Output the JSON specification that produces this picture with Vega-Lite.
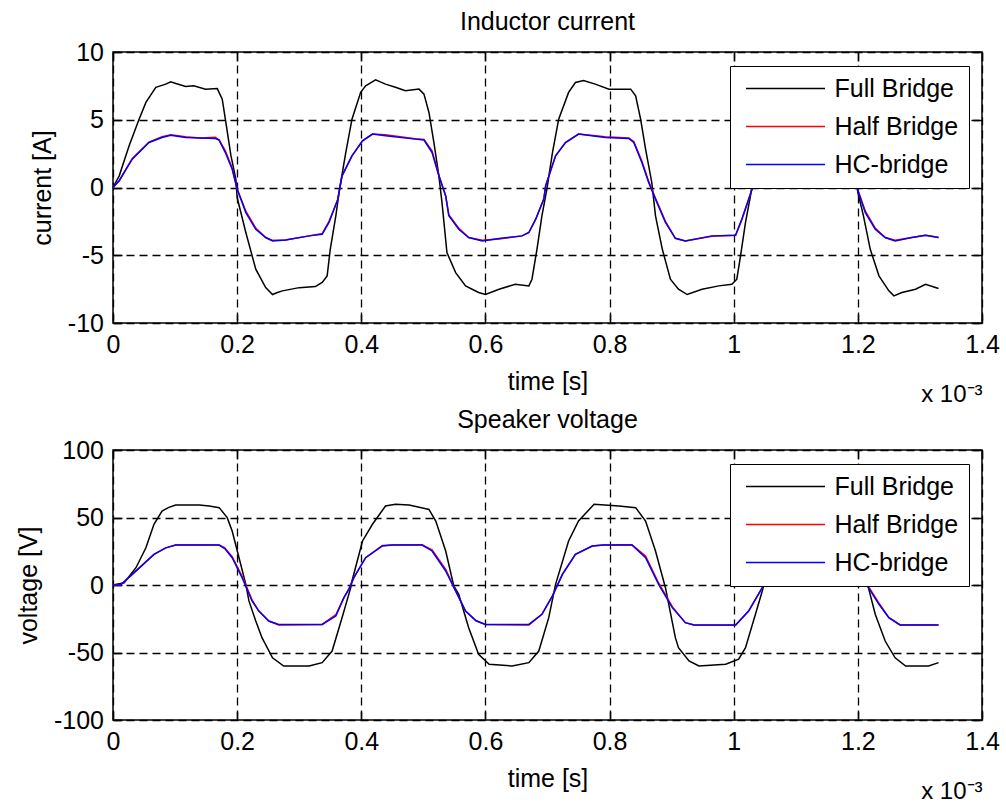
{
  "$schema": "https://vega.github.io/schema/vega-lite/v6.json",
  "background": "white",
  "padding": {"left": 15, "top": 9, "right": 2, "bottom": 0},
  "spacing": 0,
  "datasets": {
    "cur": [
      {"s":"Full Bridge","t":0,"v":0},{"s":"Full Bridge","t":0.01,"v":0.86},{"s":"Full Bridge","t":0.026,"v":3.08},{"s":"Full Bridge","t":0.042,"v":5.04},{"s":"Full Bridge","t":0.053,"v":6.28},{"s":"Full Bridge","t":0.069,"v":7.39},{"s":"Full Bridge","t":0.085,"v":7.63},{"s":"Full Bridge","t":0.093,"v":7.8},{"s":"Full Bridge","t":0.1,"v":7.7},{"s":"Full Bridge","t":0.117,"v":7.45},{"s":"Full Bridge","t":0.13,"v":7.5},{"s":"Full Bridge","t":0.149,"v":7.25},{"s":"Full Bridge","t":0.168,"v":7.3},{"s":"Full Bridge","t":0.176,"v":6.52},{"s":"Full Bridge","t":0.181,"v":5.04},{"s":"Full Bridge","t":0.19,"v":2.35},{"s":"Full Bridge","t":0.198,"v":0.61},{"s":"Full Bridge","t":0.2,"v":-0.74},{"s":"Full Bridge","t":0.214,"v":-3.32},{"s":"Full Bridge","t":0.23,"v":-6.03},{"s":"Full Bridge","t":0.246,"v":-7.39},{"s":"Full Bridge","t":0.257,"v":-7.9},{"s":"Full Bridge","t":0.265,"v":-7.75},{"s":"Full Bridge","t":0.273,"v":-7.63},{"s":"Full Bridge","t":0.3,"v":-7.39},{"s":"Full Bridge","t":0.326,"v":-7.31},{"s":"Full Bridge","t":0.337,"v":-7.0},{"s":"Full Bridge","t":0.345,"v":-6.52},{"s":"Full Bridge","t":0.35,"v":-4.56},{"s":"Full Bridge","t":0.359,"v":-2.09},{"s":"Full Bridge","t":0.365,"v":-0.12},{"s":"Full Bridge","t":0.375,"v":2.58},{"s":"Full Bridge","t":0.385,"v":5.04},{"s":"Full Bridge","t":0.399,"v":7.02},{"s":"Full Bridge","t":0.407,"v":7.51},{"s":"Full Bridge","t":0.423,"v":7.95},{"s":"Full Bridge","t":0.439,"v":7.63},{"s":"Full Bridge","t":0.455,"v":7.4},{"s":"Full Bridge","t":0.471,"v":7.14},{"s":"Full Bridge","t":0.493,"v":7.26},{"s":"Full Bridge","t":0.501,"v":6.89},{"s":"Full Bridge","t":0.509,"v":5.54},{"s":"Full Bridge","t":0.517,"v":3.32},{"s":"Full Bridge","t":0.525,"v":0.86},{"s":"Full Bridge","t":0.53,"v":-1.1},{"s":"Full Bridge","t":0.538,"v":-4.8},{"s":"Full Bridge","t":0.552,"v":-6.28},{"s":"Full Bridge","t":0.568,"v":-7.26},{"s":"Full Bridge","t":0.589,"v":-7.75},{"s":"Full Bridge","t":0.6,"v":-7.9},{"s":"Full Bridge","t":0.622,"v":-7.51},{"s":"Full Bridge","t":0.648,"v":-7.14},{"s":"Full Bridge","t":0.67,"v":-7.26},{"s":"Full Bridge","t":0.675,"v":-6.77},{"s":"Full Bridge","t":0.683,"v":-4.56},{"s":"Full Bridge","t":0.691,"v":-2.09},{"s":"Full Bridge","t":0.699,"v":-0.12},{"s":"Full Bridge","t":0.708,"v":2.58},{"s":"Full Bridge","t":0.718,"v":5.04},{"s":"Full Bridge","t":0.734,"v":7.02},{"s":"Full Bridge","t":0.745,"v":7.75},{"s":"Full Bridge","t":0.758,"v":7.9},{"s":"Full Bridge","t":0.777,"v":7.63},{"s":"Full Bridge","t":0.799,"v":7.26},{"s":"Full Bridge","t":0.815,"v":7.26},{"s":"Full Bridge","t":0.834,"v":7.26},{"s":"Full Bridge","t":0.842,"v":6.77},{"s":"Full Bridge","t":0.85,"v":5.04},{"s":"Full Bridge","t":0.858,"v":2.83},{"s":"Full Bridge","t":0.868,"v":0.37},{"s":"Full Bridge","t":0.874,"v":-2.09},{"s":"Full Bridge","t":0.885,"v":-4.56},{"s":"Full Bridge","t":0.898,"v":-6.77},{"s":"Full Bridge","t":0.911,"v":-7.51},{"s":"Full Bridge","t":0.925,"v":-7.9},{"s":"Full Bridge","t":0.949,"v":-7.51},{"s":"Full Bridge","t":0.976,"v":-7.26},{"s":"Full Bridge","t":0.997,"v":-7.14},{"s":"Full Bridge","t":1.005,"v":-6.77},{"s":"Full Bridge","t":1.011,"v":-5.04},{"s":"Full Bridge","t":1.019,"v":-2.58},{"s":"Full Bridge","t":1.027,"v":-0.62},{"s":"Full Bridge","t":1.035,"v":1.8},{"s":"Full Bridge","t":1.045,"v":4.8},{"s":"Full Bridge","t":1.06,"v":7.0},{"s":"Full Bridge","t":1.075,"v":7.7},{"s":"Full Bridge","t":1.09,"v":7.9},{"s":"Full Bridge","t":1.11,"v":7.6},{"s":"Full Bridge","t":1.13,"v":7.3},{"s":"Full Bridge","t":1.165,"v":7.25},{"s":"Full Bridge","t":1.175,"v":6.8},{"s":"Full Bridge","t":1.183,"v":5.0},{"s":"Full Bridge","t":1.19,"v":2.8},{"s":"Full Bridge","t":1.2,"v":-0.37},{"s":"Full Bridge","t":1.209,"v":-2.09},{"s":"Full Bridge","t":1.22,"v":-4.56},{"s":"Full Bridge","t":1.234,"v":-6.52},{"s":"Full Bridge","t":1.25,"v":-7.63},{"s":"Full Bridge","t":1.258,"v":-8.0},{"s":"Full Bridge","t":1.271,"v":-7.75},{"s":"Full Bridge","t":1.293,"v":-7.51},{"s":"Full Bridge","t":1.309,"v":-7.14},{"s":"Full Bridge","t":1.33,"v":-7.46},
      {"s":"Half Bridge","t":0,"v":0},{"s":"Half Bridge","t":0.01,"v":0.5},{"s":"Half Bridge","t":0.031,"v":2.15},{"s":"Half Bridge","t":0.058,"v":3.35},{"s":"Half Bridge","t":0.079,"v":3.75},{"s":"Half Bridge","t":0.093,"v":3.9},{"s":"Half Bridge","t":0.117,"v":3.75},{"s":"Half Bridge","t":0.14,"v":3.65},{"s":"Half Bridge","t":0.165,"v":3.7},{"s":"Half Bridge","t":0.171,"v":3.5},{"s":"Half Bridge","t":0.181,"v":2.7},{"s":"Half Bridge","t":0.192,"v":1.45},{"s":"Half Bridge","t":0.2,"v":-0.12},{"s":"Half Bridge","t":0.214,"v":-1.75},{"s":"Half Bridge","t":0.23,"v":-3.0},{"s":"Half Bridge","t":0.246,"v":-3.69},{"s":"Half Bridge","t":0.257,"v":-3.9},{"s":"Half Bridge","t":0.278,"v":-3.87},{"s":"Half Bridge","t":0.316,"v":-3.57},{"s":"Half Bridge","t":0.337,"v":-3.4},{"s":"Half Bridge","t":0.348,"v":-2.5},{"s":"Half Bridge","t":0.356,"v":-1.6},{"s":"Half Bridge","t":0.362,"v":-0.9},{"s":"Half Bridge","t":0.369,"v":0.86},{"s":"Half Bridge","t":0.385,"v":2.34},{"s":"Half Bridge","t":0.402,"v":3.45},{"s":"Half Bridge","t":0.418,"v":3.94},{"s":"Half Bridge","t":0.439,"v":3.9},{"s":"Half Bridge","t":0.487,"v":3.6},{"s":"Half Bridge","t":0.501,"v":3.55},{"s":"Half Bridge","t":0.514,"v":2.7},{"s":"Half Bridge","t":0.525,"v":0.9},{"s":"Half Bridge","t":0.536,"v":-0.62},{"s":"Half Bridge","t":0.541,"v":-2.0},{"s":"Half Bridge","t":0.557,"v":-3.0},{"s":"Half Bridge","t":0.573,"v":-3.69},{"s":"Half Bridge","t":0.595,"v":-3.9},{"s":"Half Bridge","t":0.622,"v":-3.8},{"s":"Half Bridge","t":0.659,"v":-3.57},{"s":"Half Bridge","t":0.67,"v":-3.32},{"s":"Half Bridge","t":0.681,"v":-2.34},{"s":"Half Bridge","t":0.694,"v":-0.86},{"s":"Half Bridge","t":0.697,"v":0.12},{"s":"Half Bridge","t":0.713,"v":2.34},{"s":"Half Bridge","t":0.729,"v":3.32},{"s":"Half Bridge","t":0.75,"v":3.94},{"s":"Half Bridge","t":0.793,"v":3.75},{"s":"Half Bridge","t":0.831,"v":3.65},{"s":"Half Bridge","t":0.839,"v":3.4},{"s":"Half Bridge","t":0.852,"v":1.95},{"s":"Half Bridge","t":0.863,"v":0.45},{"s":"Half Bridge","t":0.874,"v":-0.8},{"s":"Half Bridge","t":0.89,"v":-2.5},{"s":"Half Bridge","t":0.906,"v":-3.75},{"s":"Half Bridge","t":0.922,"v":-3.94},{"s":"Half Bridge","t":0.965,"v":-3.6},{"s":"Half Bridge","t":1.003,"v":-3.52},{"s":"Half Bridge","t":1.013,"v":-2.4},{"s":"Half Bridge","t":1.024,"v":-0.9},{"s":"Half Bridge","t":1.035,"v":0.6},{"s":"Half Bridge","t":1.05,"v":2.4},{"s":"Half Bridge","t":1.065,"v":3.4},{"s":"Half Bridge","t":1.085,"v":3.9},{"s":"Half Bridge","t":1.12,"v":3.7},{"s":"Half Bridge","t":1.165,"v":3.6},{"s":"Half Bridge","t":1.175,"v":3.3},{"s":"Half Bridge","t":1.188,"v":1.9},{"s":"Half Bridge","t":1.201,"v":-0.3},{"s":"Half Bridge","t":1.212,"v":-1.75},{"s":"Half Bridge","t":1.228,"v":-3.0},{"s":"Half Bridge","t":1.244,"v":-3.69},{"s":"Half Bridge","t":1.26,"v":-3.9},{"s":"Half Bridge","t":1.287,"v":-3.69},{"s":"Half Bridge","t":1.309,"v":-3.52},{"s":"Half Bridge","t":1.33,"v":-3.69},
      {"s":"HC-bridge","t":0,"v":0},{"s":"HC-bridge","t":0.01,"v":0.5},{"s":"HC-bridge","t":0.031,"v":2.09},{"s":"HC-bridge","t":0.058,"v":3.32},{"s":"HC-bridge","t":0.079,"v":3.69},{"s":"HC-bridge","t":0.093,"v":3.85},{"s":"HC-bridge","t":0.117,"v":3.69},{"s":"HC-bridge","t":0.14,"v":3.65},{"s":"HC-bridge","t":0.165,"v":3.62},{"s":"HC-bridge","t":0.171,"v":3.5},{"s":"HC-bridge","t":0.181,"v":2.58},{"s":"HC-bridge","t":0.192,"v":1.35},{"s":"HC-bridge","t":0.2,"v":-0.12},{"s":"HC-bridge","t":0.214,"v":-1.85},{"s":"HC-bridge","t":0.23,"v":-3.08},{"s":"HC-bridge","t":0.246,"v":-3.69},{"s":"HC-bridge","t":0.257,"v":-3.94},{"s":"HC-bridge","t":0.278,"v":-3.87},{"s":"HC-bridge","t":0.316,"v":-3.57},{"s":"HC-bridge","t":0.337,"v":-3.45},{"s":"HC-bridge","t":0.348,"v":-2.58},{"s":"HC-bridge","t":0.356,"v":-1.6},{"s":"HC-bridge","t":0.362,"v":-0.9},{"s":"HC-bridge","t":0.369,"v":0.86},{"s":"HC-bridge","t":0.385,"v":2.34},{"s":"HC-bridge","t":0.402,"v":3.45},{"s":"HC-bridge","t":0.418,"v":3.94},{"s":"HC-bridge","t":0.439,"v":3.82},{"s":"HC-bridge","t":0.487,"v":3.57},{"s":"HC-bridge","t":0.501,"v":3.5},{"s":"HC-bridge","t":0.514,"v":2.58},{"s":"HC-bridge","t":0.525,"v":0.86},{"s":"HC-bridge","t":0.536,"v":-0.62},{"s":"HC-bridge","t":0.541,"v":-2.09},{"s":"HC-bridge","t":0.557,"v":-3.08},{"s":"HC-bridge","t":0.573,"v":-3.69},{"s":"HC-bridge","t":0.595,"v":-3.94},{"s":"HC-bridge","t":0.622,"v":-3.77},{"s":"HC-bridge","t":0.659,"v":-3.57},{"s":"HC-bridge","t":0.67,"v":-3.32},{"s":"HC-bridge","t":0.681,"v":-2.34},{"s":"HC-bridge","t":0.694,"v":-0.86},{"s":"HC-bridge","t":0.697,"v":0.12},{"s":"HC-bridge","t":0.713,"v":2.34},{"s":"HC-bridge","t":0.729,"v":3.32},{"s":"HC-bridge","t":0.75,"v":3.94},{"s":"HC-bridge","t":0.793,"v":3.69},{"s":"HC-bridge","t":0.831,"v":3.62},{"s":"HC-bridge","t":0.839,"v":3.32},{"s":"HC-bridge","t":0.852,"v":1.85},{"s":"HC-bridge","t":0.863,"v":0.37},{"s":"HC-bridge","t":0.874,"v":-0.86},{"s":"HC-bridge","t":0.89,"v":-2.58},{"s":"HC-bridge","t":0.906,"v":-3.75},{"s":"HC-bridge","t":0.922,"v":-3.94},{"s":"HC-bridge","t":0.965,"v":-3.57},{"s":"HC-bridge","t":1.003,"v":-3.52},{"s":"HC-bridge","t":1.013,"v":-2.34},{"s":"HC-bridge","t":1.024,"v":-0.86},{"s":"HC-bridge","t":1.035,"v":0.6},{"s":"HC-bridge","t":1.05,"v":2.4},{"s":"HC-bridge","t":1.065,"v":3.4},{"s":"HC-bridge","t":1.085,"v":3.9},{"s":"HC-bridge","t":1.12,"v":3.7},{"s":"HC-bridge","t":1.165,"v":3.6},{"s":"HC-bridge","t":1.175,"v":3.3},{"s":"HC-bridge","t":1.188,"v":1.8},{"s":"HC-bridge","t":1.201,"v":-0.37},{"s":"HC-bridge","t":1.212,"v":-1.85},{"s":"HC-bridge","t":1.228,"v":-3.08},{"s":"HC-bridge","t":1.244,"v":-3.69},{"s":"HC-bridge","t":1.26,"v":-3.94},{"s":"HC-bridge","t":1.287,"v":-3.69},{"s":"HC-bridge","t":1.309,"v":-3.52},{"s":"HC-bridge","t":1.33,"v":-3.69}
    ],
    "volt": [
      {"s":"Full Bridge","t":0,"v":0},{"s":"Full Bridge","t":0.018,"v":1.7},{"s":"Full Bridge","t":0.037,"v":12.8},{"s":"Full Bridge","t":0.053,"v":27.6},{"s":"Full Bridge","t":0.066,"v":45},{"s":"Full Bridge","t":0.079,"v":54.8},{"s":"Full Bridge","t":0.09,"v":57.5},{"s":"Full Bridge","t":0.101,"v":59.3},{"s":"Full Bridge","t":0.139,"v":59.3},{"s":"Full Bridge","t":0.155,"v":58.5},{"s":"Full Bridge","t":0.171,"v":57.3},{"s":"Full Bridge","t":0.184,"v":49.9},{"s":"Full Bridge","t":0.192,"v":40},{"s":"Full Bridge","t":0.203,"v":20.2},{"s":"Full Bridge","t":0.214,"v":0.5},{"s":"Full Bridge","t":0.219,"v":-11.8},{"s":"Full Bridge","t":0.23,"v":-26.7},{"s":"Full Bridge","t":0.24,"v":-39},{"s":"Full Bridge","t":0.257,"v":-53.9},{"s":"Full Bridge","t":0.275,"v":-60},{"s":"Full Bridge","t":0.316,"v":-60},{"s":"Full Bridge","t":0.337,"v":-57.5},{"s":"Full Bridge","t":0.353,"v":-48.9},{"s":"Full Bridge","t":0.369,"v":-24.2},{"s":"Full Bridge","t":0.383,"v":-2},{"s":"Full Bridge","t":0.385,"v":3},{"s":"Full Bridge","t":0.402,"v":32.6},{"s":"Full Bridge","t":0.418,"v":45},{"s":"Full Bridge","t":0.439,"v":58.5},{"s":"Full Bridge","t":0.455,"v":59.8},{"s":"Full Bridge","t":0.477,"v":59.3},{"s":"Full Bridge","t":0.509,"v":56},{"s":"Full Bridge","t":0.52,"v":47.4},{"s":"Full Bridge","t":0.536,"v":25.2},{"s":"Full Bridge","t":0.549,"v":-0.7},{"s":"Full Bridge","t":0.557,"v":-6.9},{"s":"Full Bridge","t":0.573,"v":-31.6},{"s":"Full Bridge","t":0.589,"v":-51.3},{"s":"Full Bridge","t":0.606,"v":-58.7},{"s":"Full Bridge","t":0.643,"v":-60},{"s":"Full Bridge","t":0.67,"v":-57.5},{"s":"Full Bridge","t":0.686,"v":-48.9},{"s":"Full Bridge","t":0.702,"v":-24.2},{"s":"Full Bridge","t":0.713,"v":0.5},{"s":"Full Bridge","t":0.734,"v":32.6},{"s":"Full Bridge","t":0.75,"v":47.4},{"s":"Full Bridge","t":0.775,"v":59.8},{"s":"Full Bridge","t":0.815,"v":58.5},{"s":"Full Bridge","t":0.842,"v":57.3},{"s":"Full Bridge","t":0.858,"v":47.4},{"s":"Full Bridge","t":0.874,"v":25.2},{"s":"Full Bridge","t":0.89,"v":-2},{"s":"Full Bridge","t":0.906,"v":-39},{"s":"Full Bridge","t":0.911,"v":-46.4},{"s":"Full Bridge","t":0.928,"v":-56.3},{"s":"Full Bridge","t":0.944,"v":-60},{"s":"Full Bridge","t":0.987,"v":-58.7},{"s":"Full Bridge","t":1.008,"v":-55},{"s":"Full Bridge","t":1.019,"v":-46.4},{"s":"Full Bridge","t":1.035,"v":-21.7},{"s":"Full Bridge","t":1.046,"v":-4.4},{"s":"Full Bridge","t":1.06,"v":20},{"s":"Full Bridge","t":1.075,"v":42},{"s":"Full Bridge","t":1.09,"v":55},{"s":"Full Bridge","t":1.108,"v":59.8},{"s":"Full Bridge","t":1.15,"v":58.5},{"s":"Full Bridge","t":1.175,"v":57},{"s":"Full Bridge","t":1.19,"v":47},{"s":"Full Bridge","t":1.205,"v":25},{"s":"Full Bridge","t":1.217,"v":-2},{"s":"Full Bridge","t":1.228,"v":-21.7},{"s":"Full Bridge","t":1.244,"v":-41.5},{"s":"Full Bridge","t":1.26,"v":-53.9},{"s":"Full Bridge","t":1.277,"v":-60},{"s":"Full Bridge","t":1.314,"v":-60},{"s":"Full Bridge","t":1.33,"v":-57.5},
      {"s":"Half Bridge","t":0,"v":0},{"s":"Half Bridge","t":0.012,"v":0},{"s":"Half Bridge","t":0.031,"v":7.9},{"s":"Half Bridge","t":0.066,"v":22.7},{"s":"Half Bridge","t":0.085,"v":27.5},{"s":"Half Bridge","t":0.101,"v":29.6},{"s":"Half Bridge","t":0.171,"v":29.6},{"s":"Half Bridge","t":0.18,"v":27.5},{"s":"Half Bridge","t":0.192,"v":21},{"s":"Half Bridge","t":0.208,"v":6.5},{"s":"Half Bridge","t":0.224,"v":-11},{"s":"Half Bridge","t":0.235,"v":-19.3},{"s":"Half Bridge","t":0.251,"v":-26.7},{"s":"Half Bridge","t":0.267,"v":-29.6},{"s":"Half Bridge","t":0.337,"v":-29.2},{"s":"Half Bridge","t":0.359,"v":-22},{"s":"Half Bridge","t":0.372,"v":-9.4},{"s":"Half Bridge","t":0.38,"v":-3},{"s":"Half Bridge","t":0.388,"v":5.4},{"s":"Half Bridge","t":0.407,"v":20.2},{"s":"Half Bridge","t":0.434,"v":29.2},{"s":"Half Bridge","t":0.45,"v":29.6},{"s":"Half Bridge","t":0.498,"v":29.9},{"s":"Half Bridge","t":0.514,"v":26},{"s":"Half Bridge","t":0.536,"v":11.5},{"s":"Half Bridge","t":0.552,"v":-4.4},{"s":"Half Bridge","t":0.568,"v":-19.3},{"s":"Half Bridge","t":0.585,"v":-26.5},{"s":"Half Bridge","t":0.6,"v":-29.2},{"s":"Half Bridge","t":0.67,"v":-29.6},{"s":"Half Bridge","t":0.691,"v":-21.7},{"s":"Half Bridge","t":0.708,"v":-8.1},{"s":"Half Bridge","t":0.724,"v":7.9},{"s":"Half Bridge","t":0.745,"v":22.7},{"s":"Half Bridge","t":0.772,"v":28.9},{"s":"Half Bridge","t":0.79,"v":29.6},{"s":"Half Bridge","t":0.836,"v":29.9},{"s":"Half Bridge","t":0.858,"v":21.5},{"s":"Half Bridge","t":0.879,"v":1.5},{"s":"Half Bridge","t":0.901,"v":-16},{"s":"Half Bridge","t":0.922,"v":-27.9},{"s":"Half Bridge","t":0.936,"v":-29.6},{"s":"Half Bridge","t":1.003,"v":-29.9},{"s":"Half Bridge","t":1.024,"v":-19.3},{"s":"Half Bridge","t":1.046,"v":-2},{"s":"Half Bridge","t":1.06,"v":10},{"s":"Half Bridge","t":1.08,"v":23},{"s":"Half Bridge","t":1.1,"v":28.9},{"s":"Half Bridge","t":1.12,"v":29.6},{"s":"Half Bridge","t":1.17,"v":29.6},{"s":"Half Bridge","t":1.19,"v":20.2},{"s":"Half Bridge","t":1.205,"v":9},{"s":"Half Bridge","t":1.217,"v":-1},{"s":"Half Bridge","t":1.234,"v":-13.5},{"s":"Half Bridge","t":1.25,"v":-24.2},{"s":"Half Bridge","t":1.268,"v":-29.6},{"s":"Half Bridge","t":1.33,"v":-29.6},
      {"s":"HC-bridge","t":0,"v":0},{"s":"HC-bridge","t":0.012,"v":0},{"s":"HC-bridge","t":0.031,"v":7.9},{"s":"HC-bridge","t":0.066,"v":22.7},{"s":"HC-bridge","t":0.085,"v":27.5},{"s":"HC-bridge","t":0.101,"v":29.6},{"s":"HC-bridge","t":0.171,"v":29.6},{"s":"HC-bridge","t":0.18,"v":27},{"s":"HC-bridge","t":0.192,"v":20.2},{"s":"HC-bridge","t":0.208,"v":5.4},{"s":"HC-bridge","t":0.224,"v":-11.8},{"s":"HC-bridge","t":0.235,"v":-19.3},{"s":"HC-bridge","t":0.251,"v":-26.7},{"s":"HC-bridge","t":0.267,"v":-29.2},{"s":"HC-bridge","t":0.337,"v":-29.2},{"s":"HC-bridge","t":0.359,"v":-23},{"s":"HC-bridge","t":0.372,"v":-9.4},{"s":"HC-bridge","t":0.38,"v":-3},{"s":"HC-bridge","t":0.388,"v":5.4},{"s":"HC-bridge","t":0.407,"v":20.2},{"s":"HC-bridge","t":0.434,"v":28.9},{"s":"HC-bridge","t":0.45,"v":29.6},{"s":"HC-bridge","t":0.498,"v":29.6},{"s":"HC-bridge","t":0.514,"v":25.2},{"s":"HC-bridge","t":0.536,"v":10.4},{"s":"HC-bridge","t":0.552,"v":-4.4},{"s":"HC-bridge","t":0.568,"v":-19.3},{"s":"HC-bridge","t":0.585,"v":-26.5},{"s":"HC-bridge","t":0.6,"v":-29.2},{"s":"HC-bridge","t":0.67,"v":-29.2},{"s":"HC-bridge","t":0.691,"v":-21.7},{"s":"HC-bridge","t":0.708,"v":-8.1},{"s":"HC-bridge","t":0.724,"v":7.9},{"s":"HC-bridge","t":0.745,"v":22.7},{"s":"HC-bridge","t":0.772,"v":28.9},{"s":"HC-bridge","t":0.79,"v":29.6},{"s":"HC-bridge","t":0.836,"v":29.6},{"s":"HC-bridge","t":0.858,"v":20.2},{"s":"HC-bridge","t":0.879,"v":0.5},{"s":"HC-bridge","t":0.901,"v":-16.8},{"s":"HC-bridge","t":0.922,"v":-27.9},{"s":"HC-bridge","t":0.936,"v":-29.6},{"s":"HC-bridge","t":1.003,"v":-29.6},{"s":"HC-bridge","t":1.024,"v":-19.3},{"s":"HC-bridge","t":1.046,"v":-2},{"s":"HC-bridge","t":1.06,"v":10},{"s":"HC-bridge","t":1.08,"v":23},{"s":"HC-bridge","t":1.1,"v":28.9},{"s":"HC-bridge","t":1.12,"v":29.6},{"s":"HC-bridge","t":1.17,"v":29.6},{"s":"HC-bridge","t":1.19,"v":20.2},{"s":"HC-bridge","t":1.205,"v":8},{"s":"HC-bridge","t":1.217,"v":-2},{"s":"HC-bridge","t":1.234,"v":-14.3},{"s":"HC-bridge","t":1.25,"v":-24.2},{"s":"HC-bridge","t":1.268,"v":-29.6},{"s":"HC-bridge","t":1.33,"v":-29.6}
    ]
  },
  "vconcat": [
    {
      "width": 869,
      "height": 271,
      "title": {"text": "Inductor current", "frame": "group", "offset": 5},
      "data": {"name": "cur"},
      "layer": [
        {
          "mark": {"type": "line", "strokeWidth": 1.5},
          "encoding": {
            "x": {"field": "t", "type": "quantitative", "scale": {"domain": [0, 1.4], "nice": false, "zero": false},
                  "axis": {"title": "time [s]", "values": [0, 0.2, 0.4, 0.6, 0.8, 1, 1.2, 1.4], "format": "~g"}},
            "y": {"field": "v", "type": "quantitative", "scale": {"domain": [-10, 10], "nice": false},
                  "axis": {"title": "current [A]", "values": [-10, -5, 0, 5, 10], "labelExpr": "replace(datum.label, '−', '-')"}},
            "color": {"field": "s", "type": "nominal", "sort": null,
                      "scale": {"domain": ["Full Bridge", "Half Bridge", "HC-bridge"], "range": ["black", "#ff0000", "#0000ff"]},
                      "legend": {"legendX": 617, "legendY": 14}}
          }
        },
        {
          "mark": {"type": "line", "opacity": 0},
          "encoding": {
            "x": {"field": "t", "type": "quantitative",
                  "axis": {"orient": "top", "labels": false, "title": null, "grid": false, "values": [0, 0.2, 0.4, 0.6, 0.8, 1, 1.2, 1.4]}},
            "y": {"field": "v", "type": "quantitative",
                  "axis": {"orient": "right", "labels": false, "title": null, "grid": false, "values": [-10, -5, 0, 5, 10]}},
            "detail": {"field": "s"}
          }
        },
        {
          "mark": {"type": "line", "opacity": 0},
          "encoding": {
            "x": {"field": "t", "type": "quantitative",
                  "axis": {"orient": "bottom", "labels": false, "ticks": false, "grid": false, "title": "x 10⁻³", "titleAnchor": "end", "titleFontSize": 24, "titlePadding": 59}},
            "y": {"field": "v", "type": "quantitative", "axis": null},
            "detail": {"field": "s"}
          }
        }
      ],
      "resolve": {"axis": {"x": "independent", "y": "independent"}}
    },
    {
      "width": 869,
      "height": 270,
      "title": {"text": "Speaker voltage", "frame": "group", "offset": 5},
      "data": {"name": "volt"},
      "layer": [
        {
          "mark": {"type": "line", "strokeWidth": 1.5},
          "encoding": {
            "x": {"field": "t", "type": "quantitative", "scale": {"domain": [0, 1.4], "nice": false, "zero": false},
                  "axis": {"title": "time [s]", "values": [0, 0.2, 0.4, 0.6, 0.8, 1, 1.2, 1.4], "format": "~g"}},
            "y": {"field": "v", "type": "quantitative", "scale": {"domain": [-100, 100], "nice": false},
                  "axis": {"title": "voltage [V]", "values": [-100, -50, 0, 50, 100], "labelExpr": "replace(datum.label, '−', '-')"}},
            "color": {"field": "s", "type": "nominal", "sort": null,
                      "scale": {"domain": ["Full Bridge", "Half Bridge", "HC-bridge"], "range": ["black", "#ff0000", "#0000ff"]},
                      "legend": {"legendX": 617, "legendY": 14}}
          }
        },
        {
          "mark": {"type": "line", "opacity": 0},
          "encoding": {
            "x": {"field": "t", "type": "quantitative",
                  "axis": {"orient": "top", "labels": false, "title": null, "grid": false, "values": [0, 0.2, 0.4, 0.6, 0.8, 1, 1.2, 1.4]}},
            "y": {"field": "v", "type": "quantitative",
                  "axis": {"orient": "right", "labels": false, "title": null, "grid": false, "values": [-100, -50, 0, 50, 100]}},
            "detail": {"field": "s"}
          }
        },
        {
          "mark": {"type": "line", "opacity": 0},
          "encoding": {
            "x": {"field": "t", "type": "quantitative",
                  "axis": {"orient": "bottom", "labels": false, "ticks": false, "grid": false, "title": "x 10⁻³", "titleAnchor": "end", "titleFontSize": 24, "titlePadding": 59}},
            "y": {"field": "v", "type": "quantitative", "axis": null},
            "detail": {"field": "s"}
          }
        }
      ],
      "resolve": {"axis": {"x": "independent", "y": "independent"}}
    }
  ],
  "resolve": {"scale": {"x": "independent", "y": "independent", "color": "independent"}, "legend": {"color": "independent"}},
  "config": {
    "font": "Liberation Sans",
    "view": {"stroke": "black", "strokeWidth": 1.5},
    "axis": {
      "labelFont": "Liberation Sans", "labelFontSize": 25, "labelColor": "black",
      "titleFont": "Liberation Sans", "titleFontSize": 25, "titleFontWeight": "normal", "titleColor": "black",
      "grid": true, "gridColor": "black", "gridDash": [8, 5], "gridWidth": 1.3, "gridOpacity": 1,
      "domain": false, "tickColor": "black", "tickSize": -9, "tickWidth": 1.5,
      "labelFlush": false, "labelOverlap": false, "labelPadding": 18.5, "titlePadding": 12
    },
    "title": {"font": "Liberation Sans", "fontSize": 25, "fontWeight": "normal", "color": "black"},
    "legend": {
      "orient": "none", "title": null, "symbolType": "stroke", "symbolSize": 6241, "symbolStrokeWidth": 1.5,
      "labelFont": "Liberation Sans", "labelFontSize": 25, "labelColor": "black", "labelLimit": 300,
      "fillColor": "white", "strokeColor": "black", "padding": 10, "symbolOffset": 5, "labelOffset": 8.5,
      "rowPadding": 12, "clipHeight": 25, "zindex": 1
    }
  }
}
